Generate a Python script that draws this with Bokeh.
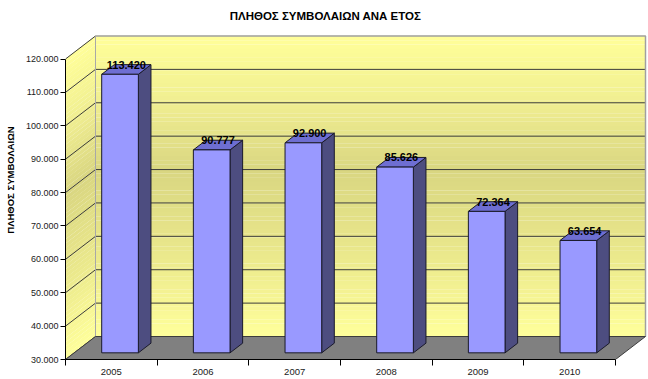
import numpy as np
from bokeh.plotting import figure
from bokeh.models import Range1d, FixedTicker, Label
from bokeh.embed import file_html
from bokeh.resources import INLINE
from bokeh.core.properties import value

# ---------------- data ----------------
years = ["2005", "2006", "2007", "2008", "2009", "2010"]
counts = [113420, 90777, 92900, 85626, 72364, 63654]
count_labels = ["113.420", "90.777", "92.900", "85.626", "72.364", "63.654"]
y_ticks = [30000, 40000, 50000, 60000, 70000, 80000, 90000, 100000, 110000, 120000]
y_tick_labels = ["30.000", "40.000", "50.000", "60.000", "70.000",
                 "80.000", "90.000", "100.000", "110.000", "120.000"]
title_text = "ΠΛΗΘΟΣ ΣΥΜΒΟΛΑΙΩΝ ΑΝΑ ΕΤΟΣ"
y_title = "ΠΛΗΘΟΣ ΣΥΜΒΟΛΑΙΩΝ"

# ---------------- geometry (styling) ----------------
FONT = "Liberation Sans"
W, H = 648, 379
LEFT, BOTTOM = 65, 20
Y0, Y1 = y_ticks[0], y_ticks[-1]
N = len(years)
PX_PER_UNIT = 300.5 / (Y1 - Y0)
FRAME_H = H - BOTTOM
FRAME_W = W - LEFT
CAT_PX = 550 / N
DX = 30 / CAT_PX            # depth offset in x units
DY = 23 / PX_PER_UNIT       # depth offset in y units
F1, F2 = 0.29, 0.71         # bar depth span
HW = 0.2                    # half bar width

p = figure(width=W, height=H,
           x_range=Range1d(0, FRAME_W / CAT_PX),
           y_range=Range1d(Y0, Y0 + FRAME_H / PX_PER_UNIT),
           output_backend="svg", toolbar_location=None,
           min_border_left=LEFT, min_border_right=0,
           min_border_top=0, min_border_bottom=BOTTOM)
p.outline_line_color = None
p.grid.visible = False
p.background_fill_color = "white"
p.border_fill_color = "white"

# ---------------- wall gradient ----------------
stops = [(0.0, (255, 255, 153)), (0.2, (242, 240, 146)), (0.45, (217, 214, 129)),
         (0.75, (236, 234, 141)), (1.0, (255, 255, 155))]

def grad(t):
    for (t0, c0), (t1, c1) in zip(stops[:-1], stops[1:]):
        if t0 <= t <= t1:
            f = (t - t0) / (t1 - t0)
            c = [int(round(a + (b - a) * f)) for a, b in zip(c0, c1)]
            return "#%02x%02x%02x" % tuple(c)
    return "#ffff99"

NS = 70
edges = np.linspace(Y1, Y0, NS + 1)
tops, bots, cols = edges[:-1], edges[1:], [grad((i + 0.5) / NS) for i in range(NS)]

# back wall strips
p.quad(left=DX, right=N + DX, top=list(tops + DY + 40), bottom=list(bots + DY),
       fill_color=cols, line_color=None)
# left wall strips
lxs = [[0, 0, DX, DX] for _ in range(NS)]
lys = [[b, t + 40, t + DY + 40, b + DY] for t, b in zip(tops, bots)]
p.patches(lxs, lys, fill_color=cols, line_color=None)

# gridlines
grid_v = y_ticks[1:-1]
p.multi_line([[DX, N + DX] for _ in grid_v], [[v + DY, v + DY] for v in grid_v],
             line_color="#3c3c3c", line_width=1)
p.multi_line([[0, DX] for _ in y_ticks], [[v, v + DY] for v in y_ticks],
             line_color="#3c3c3c", line_width=1)
# wall borders
p.line([DX, DX], [Y0 + DY, Y1 + DY], line_color="#a8a8a8", line_width=1)
p.line([DX, N + DX, N + DX], [Y1 + DY, Y1 + DY, Y0 + DY], line_color="#a0a0a0", line_width=1.5)

# floor
p.patch([0, N, N + DX, DX], [Y0, Y0, Y0 + DY, Y0 + DY],
        fill_color="#808080", line_color="#3c3c3c", line_width=1)

# ---------------- bars ----------------
cx = np.arange(N) + 0.5
v = np.array(counts, dtype=float)
fl = cx - HW + F1 * DX
fr = cx + HW + F1 * DX
br = cx + HW + F2 * DX
bl = cx - HW + F2 * DX
yb1 = Y0 + F1 * DY
yb2 = Y0 + F2 * DY
yt1 = v + F1 * DY
yt2 = v + F2 * DY

side_xs = [[fr[i], br[i], br[i], fr[i]] for i in range(N)]
side_ys = [[yb1, yb2, yt2[i], yt1[i]] for i in range(N)]
p.patches(side_xs, side_ys, fill_color="#4d4d80", line_color="#1a1a2a", line_width=1)
top_xs = [[fl[i], fr[i], br[i], bl[i]] for i in range(N)]
top_ys = [[yt1[i], yt1[i], yt2[i], yt2[i]] for i in range(N)]
p.patches(top_xs, top_ys, fill_color="#6e6ed2", line_color="#1a1a2a", line_width=1)
p.quad(left=list(fl), right=list(fr), bottom=yb1, top=list(yt1),
       fill_color="#9999ff", line_color="#1a1a2a", line_width=1)

# value labels
p.text(x=list(cx + 0.5 * DX), y=list(yt2), text=count_labels,
       text_font=value(FONT), text_font_style="bold", text_font_size="11px",
       text_align="center", text_baseline="middle", text_color="black")

# ---------------- axes ----------------
yax = p.yaxis[0]
yax.bounds = (Y0, Y1)
yax.ticker = FixedTicker(ticks=y_ticks)
yax.major_label_overrides = {t: l for t, l in zip(y_ticks, y_tick_labels)}
yax.minor_tick_line_color = None
yax.major_tick_in = 0
yax.major_tick_out = 5
yax.major_label_standoff = 2
yax.major_label_text_font = FONT
yax.major_label_text_font_size = "9px"
yax.major_label_text_color = "#1a1a1a"
yax.axis_line_color = "black"
yax.major_tick_line_color = "black"
yax.axis_label = y_title
yax.axis_label_text_font = FONT
yax.axis_label_text_font_style = "bold"
yax.axis_label_text_font_size = "9.5px"
yax.axis_label_text_color = "black"
yax.axis_label_standoff = 7

xticks = [i + 0.5 for i in range(N)]
xax = p.xaxis[0]
xax.bounds = (0, N)
xax.ticker = FixedTicker(ticks=xticks, minor_ticks=list(range(N + 1)))
xax.major_label_overrides = {t: l for t, l in zip(xticks, years)}
xax.major_tick_in = 0
xax.major_tick_out = 0
xax.minor_tick_in = 0
xax.minor_tick_out = 6
xax.minor_tick_line_color = "black"
xax.major_label_standoff = 3
xax.major_label_text_font = FONT
xax.major_label_text_font_size = "9.5px"
xax.major_label_text_color = "#1a1a1a"
xax.axis_line_color = "black"

# title (screen units, relative to the plot frame)
p.add_layout(Label(x=325 - LEFT, y=FRAME_H - 15, x_units="screen", y_units="screen",
                   text=title_text, text_align="center", text_baseline="middle",
                   text_font=FONT, text_font_style="bold", text_font_size="11.5px",
                   text_color="black"))

open("out.html", "w").write(file_html(p, INLINE))
